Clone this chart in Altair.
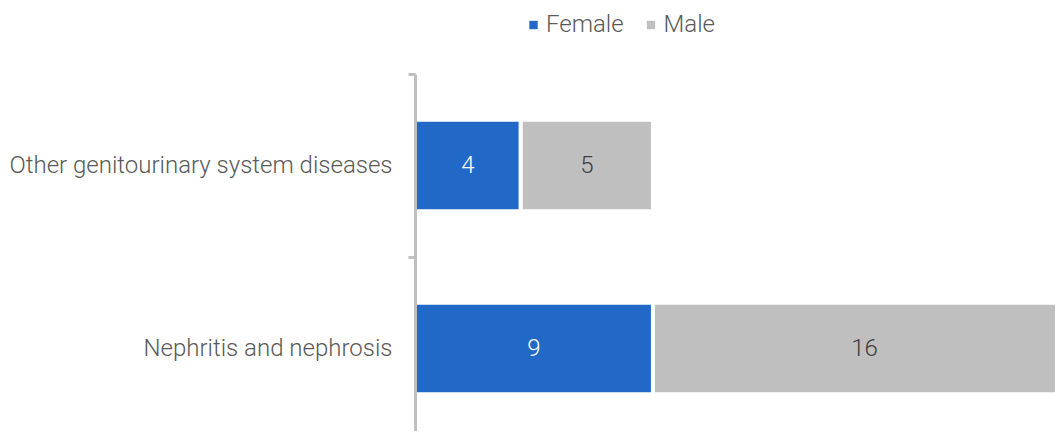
import altair as alt
import pandas as pd

categories = ["Other genitourinary system diseases", "Nephritis and nephrosis"]
female = [4, 9]
male = [5, 16]
series = ["Female", "Male"]
colors = ["#2268C6", "#BFBFBF"]
text_colors = ["#FFFFFF", "#404040"]

rows = []
for c, f, m in zip(categories, female, male):
    rows.append({"category": c, "sex": "Female", "value": f, "order": 0})
    rows.append({"category": c, "sex": "Male", "value": m, "order": 1})
df = pd.DataFrame(rows)

FONT = "Roboto"
FS = 24

base = alt.Chart(df).transform_stack(
    stack="value", groupby=["category"], as_=["x0", "x1"],
    sort=[alt.SortField("order")]
).transform_calculate(mid="(datum.x0 + datum.x1) / 2")

yscale = alt.Scale(paddingInner=0.5, paddingOuter=0.25, range=[0, 366])

yenc = alt.Y("category:N", sort=categories, title=None, scale=yscale,
             axis=alt.Axis(domainColor="#BFBFBF", domainWidth=3,
                           tickColor="#BFBFBF", tickWidth=3, tickSize=7,
                           tickOffset=-91.5, labelOffset=91.5, labelPadding=16,
                           labelFont=FONT, labelFontWeight=300, labelFontSize=FS,
                           labelColor="#595959", labelLimit=0, zindex=1))

xscale = alt.Scale(domain=[0, 25], range=[0, 661])

bars = base.mark_bar(stroke="white", strokeWidth=4, clip=True).encode(
    y=yenc,
    x=alt.X("x0:Q", scale=xscale, axis=None, title=None),
    x2="x1:Q",
    color=alt.Color("sex:N", scale=alt.Scale(domain=series, range=colors),
                    legend=alt.Legend(title=None, orient="none", direction="horizontal",
                                      legendX=106.5, legendY=-61, padding=0,
                                      symbolType="square", symbolSize=70,
                                      symbolStrokeWidth=0, labelOffset=0.5,
                                      columnPadding=14.5,
                                      labelFont=FONT, labelFontWeight=300,
                                      labelFontSize=FS, labelColor="#595959")),
)

labels = base.mark_text(font=FONT, fontWeight=300, fontSize=FS, baseline="middle",
                        align="center", clip=True).encode(
    y=alt.Y("category:N", sort=categories, scale=yscale),
    x=alt.X("mid:Q", scale=xscale),
    text=alt.Text("value:Q"),
    color=alt.Color("sex:N", scale=alt.Scale(domain=series, range=text_colors), legend=None),
)

chart = alt.layer(bars, labels).resolve_scale(color="independent").properties(
    width=640, height=357,
    autosize=alt.AutoSizeParams(type="none"),
    padding={"left": 407, "top": 66, "right": 0, "bottom": 0},
).configure_view(stroke=None)

chart.save("out.html", embed_options={"renderer": "svg", "actions": False})
